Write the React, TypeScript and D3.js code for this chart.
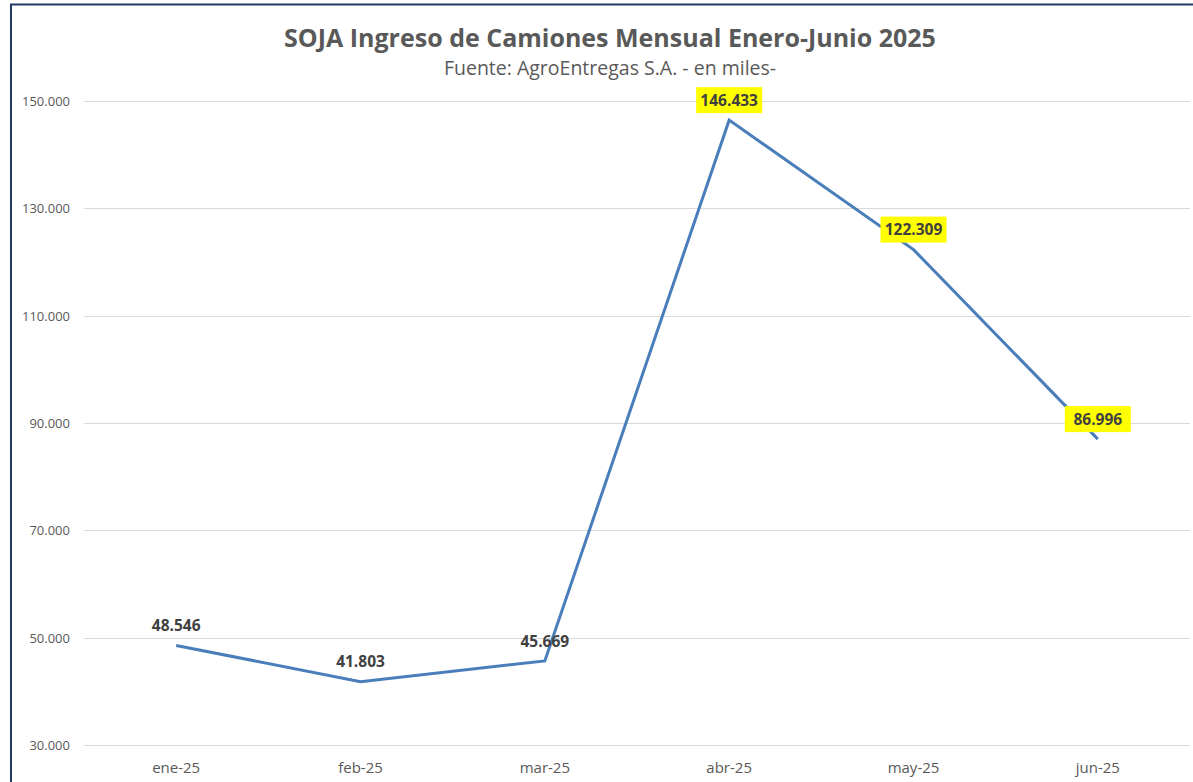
import React, { useEffect, useRef } from 'react';
import * as d3 from 'd3';

const months = ['ene-25', 'feb-25', 'mar-25', 'abr-25', 'may-25', 'jun-25'];
const trucks = [48546, 41803, 45669, 146433, 122309, 86996];
const highlighted = [false, false, false, true, true, true];
const yTicks = [30000, 50000, 70000, 90000, 110000, 130000, 150000];

const W = 1193;
const H = 782;
const FONT = "'Open Sans', 'Noto Sans', sans-serif";

const fmt = (v: number) => d3.format(',')(v).replace(/,/g, '.');

const App = () => {
  const svgRef = useRef<SVGSVGElement | null>(null);

  useEffect(() => {
    const svg = d3.select(svgRef.current);
    svg.selectAll('*').remove();

    const margin = { top: 101, right: 3, bottom: 37, left: 84 };
    const width = W - margin.left - margin.right;

    svg.append('rect').attr('width', W).attr('height', H).attr('fill', '#fff');

    // outer frame (only top and left visible)
    svg.append('line').attr('x1', 10).attr('x2', W).attr('y1', 4.5).attr('y2', 4.5)
      .attr('stroke', '#203864').attr('stroke-width', 2);
    svg.append('line').attr('x1', 11).attr('x2', 11).attr('y1', 4).attr('y2', H)
      .attr('stroke', '#203864').attr('stroke-width', 2);

    const x = d3.scaleBand().domain(months).range([margin.left, margin.left + width]);
    const y = d3.scaleLinear().domain([30000, 150000]).range([H - margin.bottom, margin.top]);
    const cx = (m: string) => (x(m) as number) + x.bandwidth() / 2;

    // titles
    svg.append('text')
      .attr('x', 610).attr('y', 47)
      .attr('text-anchor', 'middle')
      .style('font-family', FONT).style('font-weight', 700).style('font-size', '25px')
      .style('fill', '#595959')
      .text('SOJA Ingreso de Camiones Mensual Enero-Junio 2025');
    svg.append('text')
      .attr('x', 610).attr('y', 75)
      .attr('text-anchor', 'middle')
      .style('font-family', FONT).style('font-size', '19.5px')
      .style('fill', '#595959')
      .text('Fuente: AgroEntregas S.A. - en miles-');

    // gridlines + y labels
    const grid = svg.append('g');
    grid.selectAll('line').data(yTicks).enter().append('line')
      .attr('x1', margin.left).attr('x2', margin.left + width)
      .attr('y1', (d) => Math.round(y(d)) + 0.5).attr('y2', (d) => Math.round(y(d)) + 0.5)
      .attr('stroke', '#d9d9d9').attr('stroke-width', 1);
    grid.selectAll('text').data(yTicks).enter().append('text')
      .attr('x', 70).attr('y', (d) => y(d) + 5)
      .attr('text-anchor', 'end')
      .style('font-family', FONT).style('font-size', '13px').style('fill', '#595959')
      .text((d) => fmt(d));

    // x labels
    svg.append('g').selectAll('text').data(months).enter().append('text')
      .attr('x', (d) => cx(d)).attr('y', 773)
      .attr('text-anchor', 'middle')
      .style('font-family', FONT).style('font-size', '15px').style('fill', '#595959')
      .text((d) => d);

    // line
    const line = d3.line<number>()
      .x((_, i) => cx(months[i]))
      .y((d) => y(d));
    svg.append('path').datum(trucks)
      .attr('d', line)
      .attr('fill', 'none')
      .attr('stroke', '#4a7ebb')
      .attr('stroke-width', 3);

    // data labels
    const labels = svg.append('g').selectAll('g').data(trucks).enter().append('g')
      .attr('transform', (d, i) => `translate(${cx(months[i])}, ${y(d) - 20})`);
    labels.filter((_, i) => highlighted[i]).append('rect')
      .attr('x', -33).attr('y', -13).attr('width', 66).attr('height', 26)
      .attr('fill', '#ffff00');
    labels.append('text')
      .attr('text-anchor', 'middle').attr('dy', '0.36em')
      .style('font-family', FONT).style('font-weight', 700).style('font-size', '15.5px')
      .style('fill', '#404040')
      .text((d) => fmt(d));
  }, []);

  return (
    <svg ref={svgRef} width={W} height={H}
      style={{ position: 'absolute', left: 0, top: 0, display: 'block' }} />
  );
};

export default App;
